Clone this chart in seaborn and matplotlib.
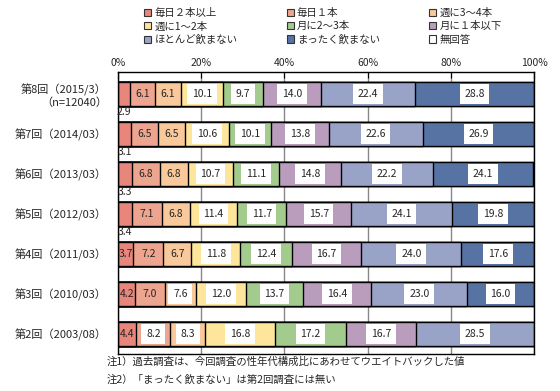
import numpy as np
import pandas as pd
import matplotlib
matplotlib.use('Agg')
import matplotlib.pyplot as plt
from matplotlib.patches import Patch
import seaborn as sns

sns.set_style('white')
plt.rcParams['font.family'] = ['Noto Sans CJK JP', 'DejaVu Sans']

# 調査回
surveys = ['第8回（2015/3）\n（n=12040）', '第7回（2014/03）', '第6回（2013/03）',
           '第5回（2012/03）', '第4回（2011/03）', '第3回（2010/03）', '第2回（2003/08）']

# 頻度カテゴリ
freq = ['毎日２本以上', '毎日１本', '週に3～4本', '週に1～2本', '月に2～3本',
        '月に１本以下', 'ほとんど飲まない', 'まったく飲まない', '無回答']

# 各カテゴリの値 (%)
daily2 = [2.9, 3.1, 3.3, 3.4, 3.7, 4.2, 4.4]
daily1 = [6.1, 6.5, 6.8, 7.1, 7.2, 7.0, 8.2]
week34 = [6.1, 6.5, 6.8, 6.8, 6.7, 7.6, 8.3]
week12 = [10.1, 10.6, 10.7, 11.4, 11.8, 12.0, 16.8]
month23 = [9.7, 10.1, 11.1, 11.7, 12.4, 13.7, 17.2]
month1 = [14.0, 13.8, 14.8, 15.7, 16.7, 16.4, 16.7]
rarely = [22.4, 22.6, 22.2, 24.1, 24.0, 23.0, 28.5]
never = [28.8, 26.9, 24.1, 19.8, 17.6, 16.0, 0.0]
no_answer = [0.0, 0.0, 0.2, 0.0, 0.0, 0.1, 0.0]

colors = ['#E8867B', '#EEA58F', '#F9C99B', '#FDE59B', '#A3CB8D',
          '#BA9CBD', '#99A3C7', '#5773A4', '#FFFFFF']

vals = np.array([daily2, daily1, week34, week12, month23, month1, rarely, never, no_answer])
cum = np.cumsum(vals, axis=0)

fig = plt.figure(figsize=(5.6, 3.91), dpi=100)
ax = fig.add_axes([0.2107, 0.0946, 0.7429, 0.7213])

# 累積値を大きい方から描いて積み上げ棒にする
for k in range(len(freq) - 1, -1, -1):
    df = pd.DataFrame({'survey': surveys, 'cum': cum[k]})
    sns.barplot(data=df, x='cum', y='survey', color=colors[k], orient='h',
                width=0.6, edgecolor='black', linewidth=1.0, saturation=1,
                ax=ax, zorder=2)

# ラベル
for i in range(len(surveys)):
    for k in range(8):
        v = vals[k, i]
        if v <= 0:
            continue
        xc = cum[k, i] - v / 2
        if k == 0 and v < 3.5:
            ax.text(xc, i + 0.45, f'{v:.1f}', ha='center', va='center',
                    fontsize=7.5, zorder=4)
        elif v >= 7.5:
            ax.text(xc, i, f'{v:.1f}', ha='center', va='center', fontsize=7.5,
                    zorder=4, bbox=dict(boxstyle='square,pad=0.45', fc='white', ec='none'))
        else:
            ax.text(xc, i, f'{v:.1f}', ha='center', va='center', fontsize=7.5, zorder=4)

ax.set_xlim(0, 100)
ax.set_ylim(6.5, -0.55)
ax.set_xticks([0, 20, 40, 60, 80, 100])
ax.set_xticklabels(['0%', '20%', '40%', '60%', '80%', '100%'], fontsize=7.5)
ax.xaxis.tick_top()
ax.tick_params(axis='x', direction='in', length=4, color='black', pad=3)
ax.tick_params(axis='y', length=0, labelsize=8, pad=8)
for lbl in ax.get_yticklabels():
    lbl.set_multialignment('right')
ax.set_xlabel('')
ax.set_ylabel('')
ax.grid(axis='x', color='#888888', linewidth=1.0, zorder=0)
ax.set_axisbelow(True)
for s in ax.spines.values():
    s.set_color('black')
    s.set_linewidth(1.0)

order = [0, 3, 6, 1, 4, 7, 2, 5, 8]
handles = [Patch(facecolor=colors[k], edgecolor='#333333', linewidth=0.8, label=freq[k]) for k in order]
fig.legend(handles=handles, ncol=3, loc='upper left', bbox_to_anchor=(0.25, 0.99),
           frameon=False, fontsize=7.5, handlelength=0.7, handleheight=0.7,
           handletextpad=0.3, columnspacing=4.7, labelspacing=0.3, borderaxespad=0)

fig.text(0.19, 0.074, '注1）過去調査は、今回調査の性年代構成比にあわせてウエイトバックした値',
         fontsize=7.5, va='center')
fig.text(0.19, 0.028, '注2）「まったく飲まない」は第2回調査には無い', fontsize=7.5, va='center')

fig.savefig('out.png', dpi=100)
